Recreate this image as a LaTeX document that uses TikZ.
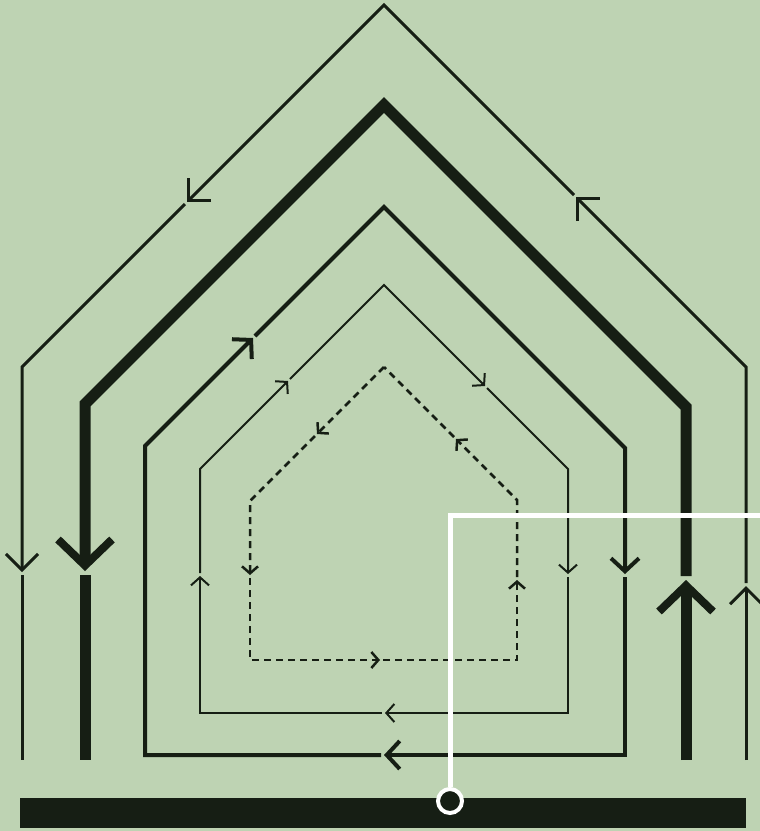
\documentclass[tikz,border=0pt]{standalone}
\usetikzlibrary{arrows.meta}
\definecolor{bgc}{HTML}{BED3B3}
\definecolor{ink}{HTML}{161E14}
\tikzset{
  ln/.style={draw=ink, line join=miter, line cap=butt},
  s1/.style={ln, line width=3pt, -{Straight Barb[length=16pt,width=32pt]}},
  s1p/.style={ln, line width=3pt},
  s2/.style={ln, line width=11pt, -{Straight Barb[length=26pt,width=54pt,line width=8pt]}},
  s2p/.style={ln, line width=11pt},
  s3/.style={ln, line width=4pt, -{Straight Barb[length=13pt,width=28pt]}},
  s3p/.style={ln, line width=4pt},
  s4/.style={ln, line width=2pt, -{Straight Barb[length=8pt,width=18pt]}},
  s4p/.style={ln, line width=2pt},
  s5/.style={ln, line width=2.5pt, dash pattern=on 7pt off 5pt, -{Straight Barb[length=7pt,width=16pt]}},
  s5p/.style={ln, line width=2.5pt, dash pattern=on 7pt off 5pt},
}
\begin{document}
\begin{tikzpicture}[x=1pt,y=-1pt]
\fill[bgc] (0,0) rectangle (760,831);
\useasboundingbox (0,0) rectangle (760,831);
% shape 1 (outer thin)
\draw[s1] (746,760) -- (746,586);
\draw[s1] (746,583) -- (746,367) -- (576,197);
\draw[s1] (574,195) -- (384,5) -- (187,202);
\draw[s1] (185,204) -- (22,367) -- (22,572);
\draw[s1p] (22,575) -- (22,760);
% shape 2 (thick)
\draw[s2] (686,760) -- (686,580);
\draw[s2] (686,576) -- (686,407) -- (384,105) -- (85,404) -- (85,571);
\draw[s2p] (85,575) -- (85,760);
% shape 3
\draw[s3] (381,755) -- (145,755) -- (145,446) -- (253,338);
\draw[s3] (255,336) -- (384,207) -- (625,448) -- (625,574);
\draw[s3] (625,577) -- (625,755) -- (384,755);
% shape 4
\draw[s4] (382,713) -- (200,713) -- (200,576);
\draw[s4] (200,573) -- (200,469) -- (288,381);
\draw[s4] (290,379) -- (384,285) -- (485,386);
\draw[s4] (487,388) -- (568,469) -- (568,574);
\draw[s4] (568,577) -- (568,713) -- (385,713);
% shape 5 (dashed)
\draw[s5] (384,367) -- (317,434);
\draw[s5] (315,436) -- (250,501) -- (250,575);
\draw[s5] (250,578) -- (250,660) -- (380,660);
\draw[s5] (383,660) -- (517,660) -- (517,580);
\draw[s5] (517,577) -- (517,500) -- (456,439);
\draw[s5p] (454,437) -- (384,367);
% base bar
\fill[ink] (20,798) rectangle (746,828);
% white leader
\coordinate (lead) at (760,515);
\node[circle, draw=white, fill=ink, line width=4pt, minimum size=24pt, inner sep=0pt] (dot) at (450,801) {};
\draw[white, line width=5pt, line join=miter] (dot.north) -- (450,515) -- (lead);
\end{tikzpicture}
\end{document}
